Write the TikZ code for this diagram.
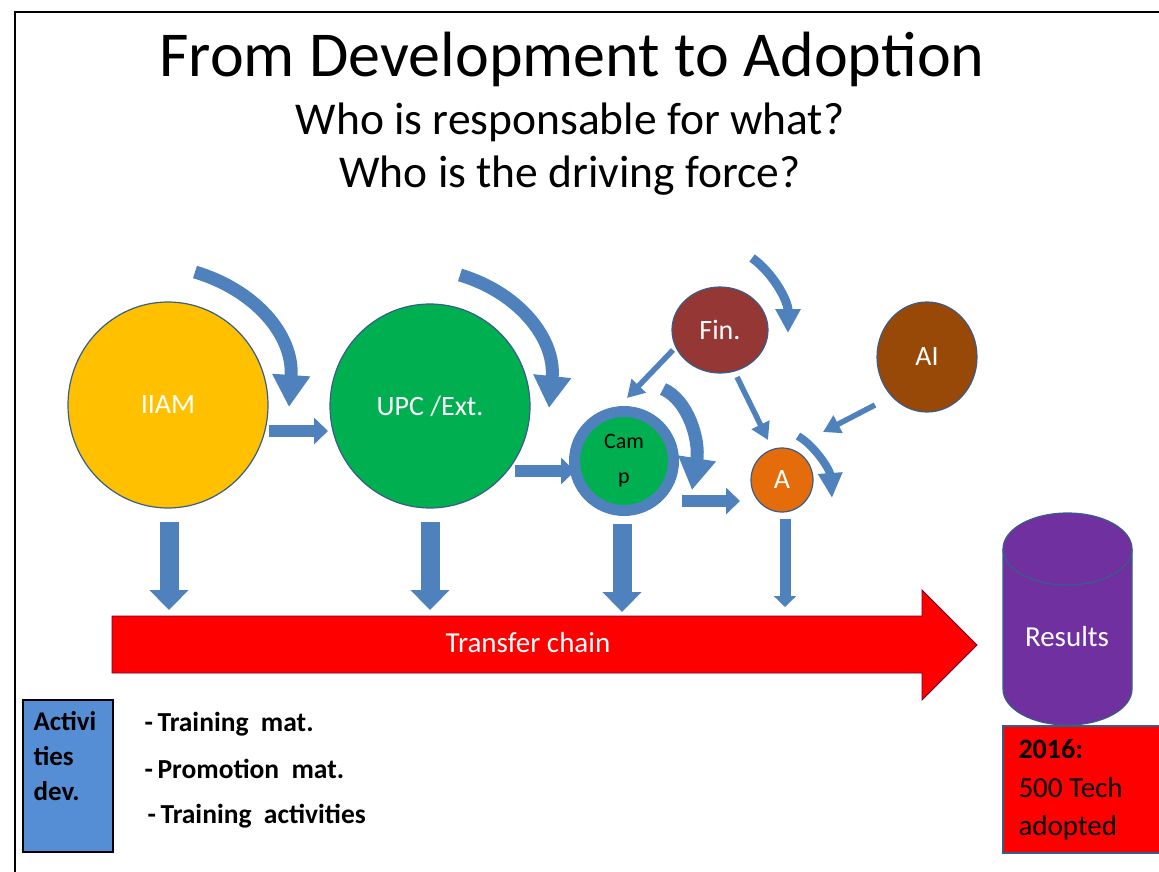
\documentclass[tikz,border=0pt]{standalone}
\usepackage{fontspec}
\setmainfont{Carlito}
\usetikzlibrary{arrows.meta,shapes.geometric,calc}
\definecolor{ablue}{HTML}{4F81BD}
\definecolor{outl}{HTML}{385D8A}
\definecolor{cyellow}{HTML}{FFC000}
\definecolor{cgreen}{HTML}{00B050}
\definecolor{cfin}{HTML}{953735}
\definecolor{cai}{HTML}{984807}
\definecolor{corange}{HTML}{E46C0A}
\definecolor{cpurple}{HTML}{7030A0}
\definecolor{cred}{HTML}{FF0000}
\definecolor{actblue}{HTML}{558ED5}
\begin{document}
\begin{tikzpicture}[x=1pt,y=-1pt,
  circ/.style={ellipse, draw=outl, line width=1.2pt, inner sep=0pt, text=white, font=\fontsize{28}{32}\selectfont},
  curvbig/.style={draw=ablue, line width=13pt, -{Triangle[width=36pt,length=32pt]}},
  curvsmall/.style={draw=ablue, line width=8pt, -{Triangle[width=23pt,length=25pt]}},
  blockh/.style={draw=ablue, line width=12pt, -{Triangle[width=26pt,length=14pt]}},
  blockv/.style={draw=ablue, line width=19pt, -{Triangle[width=38pt,length=20pt]}},
  thinv/.style={draw=ablue, line width=11pt, -{Triangle[width=22pt,length=11pt]}},
  thin/.style={draw=ablue, line width=5.5pt, -{Triangle[width=19pt,length=17pt]}},
  btext/.style={anchor=base west, font=\fontsize{27.5}{30}\selectfont\bfseries}
]
\useasboundingbox (0,0) rectangle (1159,872);
\draw[line width=1.5pt] (15,872) -- (15,12) -- (1159,12);

% titles
\node[anchor=base, font=\fontsize{64}{70}\selectfont] (title) at (572,77) {From Development to Adoption};
\node[anchor=base, font=\fontsize{45.5}{50}\selectfont] (sub1) at (570,135) {Who is responsable for what?};
\node[anchor=base, font=\fontsize{45.5}{50}\selectfont] (sub2) at (570,187) {Who is the driving force?};

% circles
\node[circ, fill=cyellow, minimum width=200pt, minimum height=206pt] (iiam) at (168,405) {IIAM};
\node[circ, fill=cgreen, minimum width=200pt, minimum height=204pt] (upc) at (430,406) {UPC /Ext.};
\node[circle, fill=cgreen, draw=ablue, line width=11pt, minimum size=99pt, inner sep=0pt,
      align=center, font=\fontsize{22}{35}\selectfont] (camp) at (624,461) {Cam\\p};
\node[circ, fill=cfin, minimum width=96pt, minimum height=86pt] (fin) at (720,330) {Fin.};
\node[circ, fill=cai, minimum width=100pt, minimum height=110pt] (ai) at (927,357) {AI};
\node[circ, fill=corange, minimum width=62pt, minimum height=64pt] (a) at (782,480) {A};

% curved arrows
\draw[curvbig] (195,272) .. controls (255,290) and (294,335) .. (289,407);
\draw[curvbig] (460,275) .. controls (520,293) and (556,340) .. (549,408);
\draw[curvbig] (663,389) .. controls (688,400) and (700,440) .. (692,490);
\draw[draw=ablue, line width=9pt, -{Triangle[width=24pt,length=24pt]}] (752,258) .. controls (772,272) and (788,300) .. (788,333);
\draw[curvsmall] (798,436) .. controls (815,446) and (830,470) .. (832,498);

% horizontal block arrows
\draw[blockh] (iiam.east |- 0,431) -- ($(upc.center)+(-102,25)$);
\draw[blockh] ($(upc.center)+(85,65)$) -- ($(camp.center)+(-49,10)$);
\draw[blockh] ($(camp.center)+(58,40)$) -- ($(a.center)+(-42,21)$);

% thin arrows
\draw[thin] ($(fin.center)+(-47,20)$) -- ($(camp.center)+(3,-63)$);
\draw[thin] ($(fin.center)+(17,47)$) -- ($(a.center)+(-14,-40)$);
\draw[thin] ($(ai.center)+(-52,48)$) -- ($(a.center)+(41,-48)$);

% transfer chain
\draw[fill=cred, draw=red!55!black!80!blue, line width=0.8pt]
  (112,616) -- (922,616) -- (922,590) -- (977,645) -- (922,700) -- (922,673) -- (112,673) -- cycle;
\node[text=white, font=\fontsize{29}{32}\selectfont] (chain) at (528,643) {Transfer chain};

% vertical arrows
\draw[blockv] ($(iiam.center)+(1,117)$) -- ($(iiam.center)+(1,205)$);
\draw[blockv] ($(upc.center)+(0,116)$) -- ($(upc.center)+(0,204)$);
\draw[blockv] ($(camp.center)+(-2,63)$) -- ($(camp.center)+(-2,151)$);
\draw[thinv] ($(a.center)+(3,39)$) -- ($(a.center)+(3,127)$);

% results cylinder
\draw[fill=cpurple, draw=outl, line width=1.2pt]
  (1003,549) -- (1003,689) arc (180:0:64.5 and 36) -- (1132,549) arc (0:-180:64.5 and 36) -- cycle;
\draw[draw=outl, line width=1.2pt] (1003,549) arc (180:0:64.5 and 36);
\node[text=white, font=\fontsize{29}{32}\selectfont] (res) at (1067,637) {Results};

% result box
\draw[fill=cred, draw=outl, line width=1.2pt] (1003,726) rectangle (1165,853);
\node[anchor=base west, font=\fontsize{28}{30}\selectfont\bfseries] (y2016) at (1015,758) {2016:};
\node[anchor=base west, font=\fontsize{29}{30}\selectfont] (tech) at (1015,797) {500 Tech};
\node[anchor=base west, font=\fontsize{29}{30}\selectfont] (adopt) at (1015,835) {adopted};

% activities box
\draw[fill=actblue, draw=black, line width=1.5pt] (23,700) rectangle (113,852);
\node[anchor=base west, font=\fontsize{27}{30}\selectfont\bfseries] (act1) at (30,730) {Activi};
\node[anchor=base west, font=\fontsize{27}{30}\selectfont\bfseries] (act2) at (30,765) {ties};
\node[anchor=base west, font=\fontsize{27}{30}\selectfont\bfseries] (act3) at (30,800) {dev.};

\node[btext] (b1) at (141,731) {-\,Training~ mat.};
\node[btext] (b2) at (141,778) {-\,Promotion~ mat.};
\node[btext] (b3) at (144,823) {-\,Training~ activities};
\end{tikzpicture}
\end{document}
